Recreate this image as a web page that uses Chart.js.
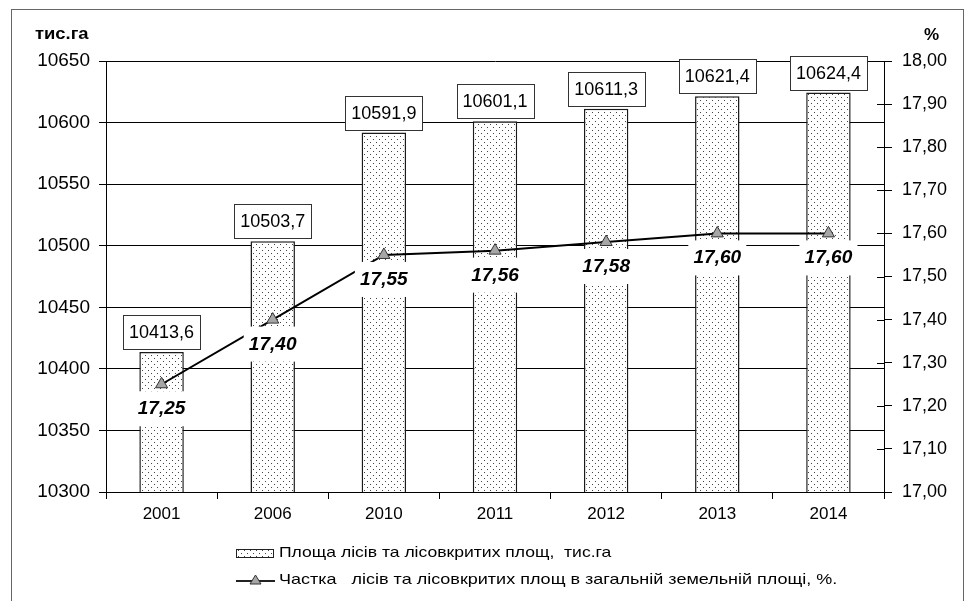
<!DOCTYPE html>
<html lang="uk">
<head>
    <meta charset="UTF-8">
    <title>Площа лісів та лісовкритих площ</title>
    <script src="https://cdn.jsdelivr.net/npm/chart.js"></script>
    <style>
        html, body { margin: 0; padding: 0; background: #fff; }
        .chart-container { width: 968px; height: 601px; position: relative; }
    </style>
</head>
<body>
    <div class="chart-container">
        <canvas id="forestChart"></canvas>
    </div>

    <script>
        const years = ['2001', '2006', '2010', '2011', '2012', '2013', '2014'];
        const forestArea = [10413.6, 10503.7, 10591.9, 10601.1, 10611.3, 10621.4, 10624.4];
        const forestShare = [17.25, 17.40, 17.55, 17.56, 17.58, 17.60, 17.60];

        const areaLabel = 'Площа лісів та лісовкритих площ,  тис.га';
        const shareLabel = 'Частка   лісів та лісовкритих площ в загальній земельній площі, %.';

        const FONT = '"Liberation Sans", Arial, sans-serif';
        const comma = (v, d) => v.toFixed(d).replace('.', ',');

        // the original picture is a bit stretched sideways, so text drawn by hand gets a scale
        function wideText(c, text, x, y, sx) {
            c.save();
            c.translate(x, y);
            c.scale(sx, 1);
            c.fillText(text, 0, 0);
            c.restore();
        }

        // dotted fill like the old office charts
        function makeDots() {
            const c = document.createElement('canvas');
            c.width = 6;
            c.height = 6;
            const g = c.getContext('2d');
            g.fillStyle = '#fff';
            g.fillRect(0, 0, 6, 6);
            g.fillStyle = '#444';
            g.fillRect(1, 1, 1, 1);
            g.fillRect(4, 4, 1, 1);
            return g.createPattern(c, 'repeat');
        }

        const ctx = document.getElementById('forestChart').getContext('2d');
        const dots = makeDots();

        const decorations = {
            id: 'decorations',
            beforeDraw(chart) {
                const c = chart.ctx;
                c.save();
                c.fillStyle = '#fff';
                c.fillRect(0, 0, chart.width, chart.height);
                c.strokeStyle = '#666';
                c.lineWidth = 1;
                c.strokeRect(11.5, 9.5, 952, 700);
                c.fillStyle = '#000';
                c.font = 'bold 16px ' + FONT;
                c.textBaseline = 'middle';
                c.textAlign = 'left';
                wideText(c, 'тис.га', 35, 35, 1.15);
                c.font = 'bold 17px ' + FONT;
                c.fillText('%', 924, 35);
                c.restore();
            },
            afterDraw(chart) {
                const c = chart.ctx;
                const area = chart.chartArea;
                c.save();
                // inner half of the right axis ticks
                const y1 = chart.scales.y1;
                c.strokeStyle = '#000';
                c.lineWidth = 1;
                y1.ticks.forEach((t, i) => {
                    const yy = Math.round(y1.getPixelForTick(i)) + 0.5;
                    c.beginPath();
                    c.moveTo(area.right - 7, yy);
                    c.lineTo(area.right, yy);
                    c.stroke();
                });

                // legend
                c.font = '15px ' + FONT;
                c.textBaseline = 'middle';
                c.textAlign = 'left';
                c.fillStyle = dots;
                c.fillRect(236, 549, 37, 8);
                c.strokeStyle = '#222';
                c.strokeRect(236.5, 549.5, 37, 8);
                c.fillStyle = '#000';
                wideText(c, chart.data.datasets[0].label, 279, 553, 1.17);

                c.lineWidth = 2;
                c.beginPath();
                c.moveTo(236, 581);
                c.lineTo(275, 581);
                c.stroke();
                c.beginPath();
                c.moveTo(255.5, 575);
                c.lineTo(261, 584);
                c.lineTo(250, 584);
                c.closePath();
                c.fillStyle = '#a6a6a6';
                c.fill();
                c.lineWidth = 1;
                c.strokeStyle = '#333';
                c.stroke();
                c.fillStyle = '#000';
                wideText(c, chart.data.datasets[1].label, 279, 580, 1.2);
                c.restore();
            },
            afterDatasetsDraw(chart) {
                const c = chart.ctx;
                c.save();
                c.textAlign = 'center';
                c.textBaseline = 'middle';

                // value boxes above bars
                c.font = '18px ' + FONT;
                chart.getDatasetMeta(0).data.forEach((bar, i) => {
                    const bw = 77, bh = 34;
                    const bx = Math.round(bar.x - bw / 2) + 0.5;
                    const by = Math.round(bar.y - 3 - bh) + 0.5;
                    c.fillStyle = '#fff';
                    c.fillRect(bx, by, bw, bh);
                    c.strokeStyle = '#333';
                    c.lineWidth = 1;
                    c.strokeRect(bx, by, bw, bh);
                    c.fillStyle = '#000';
                    c.fillText(comma(forestArea[i], 1), bar.x, by + bh / 2 + 1);
                });

                // share labels under the points
                c.font = 'italic bold 18px ' + FONT;
                chart.getDatasetMeta(1).data.forEach((pt, i) => {
                    const cy = pt.y + 24;
                    c.fillStyle = '#fff';
                    c.fillRect(pt.x - 29, cy - 17, 58, 35);
                    c.fillStyle = '#000';
                    wideText(c, comma(forestShare[i], 2), pt.x, cy + 1, 1.06);
                });
                c.restore();
            }
        };

        new Chart(ctx, {
            type: 'bar',
            data: {
                labels: years,
                datasets: [{
                    type: 'bar',
                    label: areaLabel,
                    data: forestArea,
                    yAxisID: 'y',
                    backgroundColor: dots,
                    borderColor: '#1a1a1a',
                    borderWidth: 1.5,
                    barPercentage: 0.4,
                    categoryPercentage: 1,
                    order: 2
                }, {
                    type: 'line',
                    label: shareLabel,
                    data: forestShare,
                    yAxisID: 'y1',
                    borderColor: '#000',
                    borderWidth: 2,
                    tension: 0,
                    pointStyle: 'triangle',
                    pointRadius: 7,
                    pointBackgroundColor: '#a6a6a6',
                    pointBorderColor: '#333',
                    pointBorderWidth: 1,
                    order: 1
                }]
            },
            options: {
                responsive: true,
                maintainAspectRatio: false,
                animation: false,
                layout: { padding: { top: 61, left: 0, right: 0, bottom: 0 } },
                scales: {
                    x: {
                        offset: true,
                        grid: {
                            offset: true,
                            drawOnChartArea: false,
                            color: '#000',
                            tickLength: 7
                        },
                        border: { color: '#000', width: 1 },
                        ticks: {
                            color: '#000',
                            font: { family: FONT, size: 17 },
                            padding: 5
                        },
                        afterFit(s) { s.height = 109; }
                    },
                    y: {
                        position: 'left',
                        min: 10300,
                        max: 10650,
                        grid: { color: '#000', tickLength: 7 },
                        border: { color: '#000', width: 1 },
                        ticks: {
                            stepSize: 50,
                            color: '#000',
                            padding: 9,
                            font: { family: FONT, size: 19 },
                            callback: v => String(v)
                        },
                        afterFit(s) { s.width = 106; }
                    },
                    y1: {
                        position: 'right',
                        min: 17.0,
                        max: 18.0,
                        grid: { drawOnChartArea: false, color: '#000', tickLength: 8 },
                        border: { color: '#000', width: 1 },
                        ticks: {
                            stepSize: 0.1,
                            color: '#000',
                            padding: 10,
                            font: { family: FONT, size: 18 },
                            callback: v => comma(v, 2)
                        },
                        afterFit(s) { s.width = 84; }
                    }
                },
                plugins: {
                    legend: { display: false },
                    title: { display: false },
                    tooltip: { enabled: false }
                }
            },
            plugins: [decorations]
        });
    </script>
</body>
</html>
